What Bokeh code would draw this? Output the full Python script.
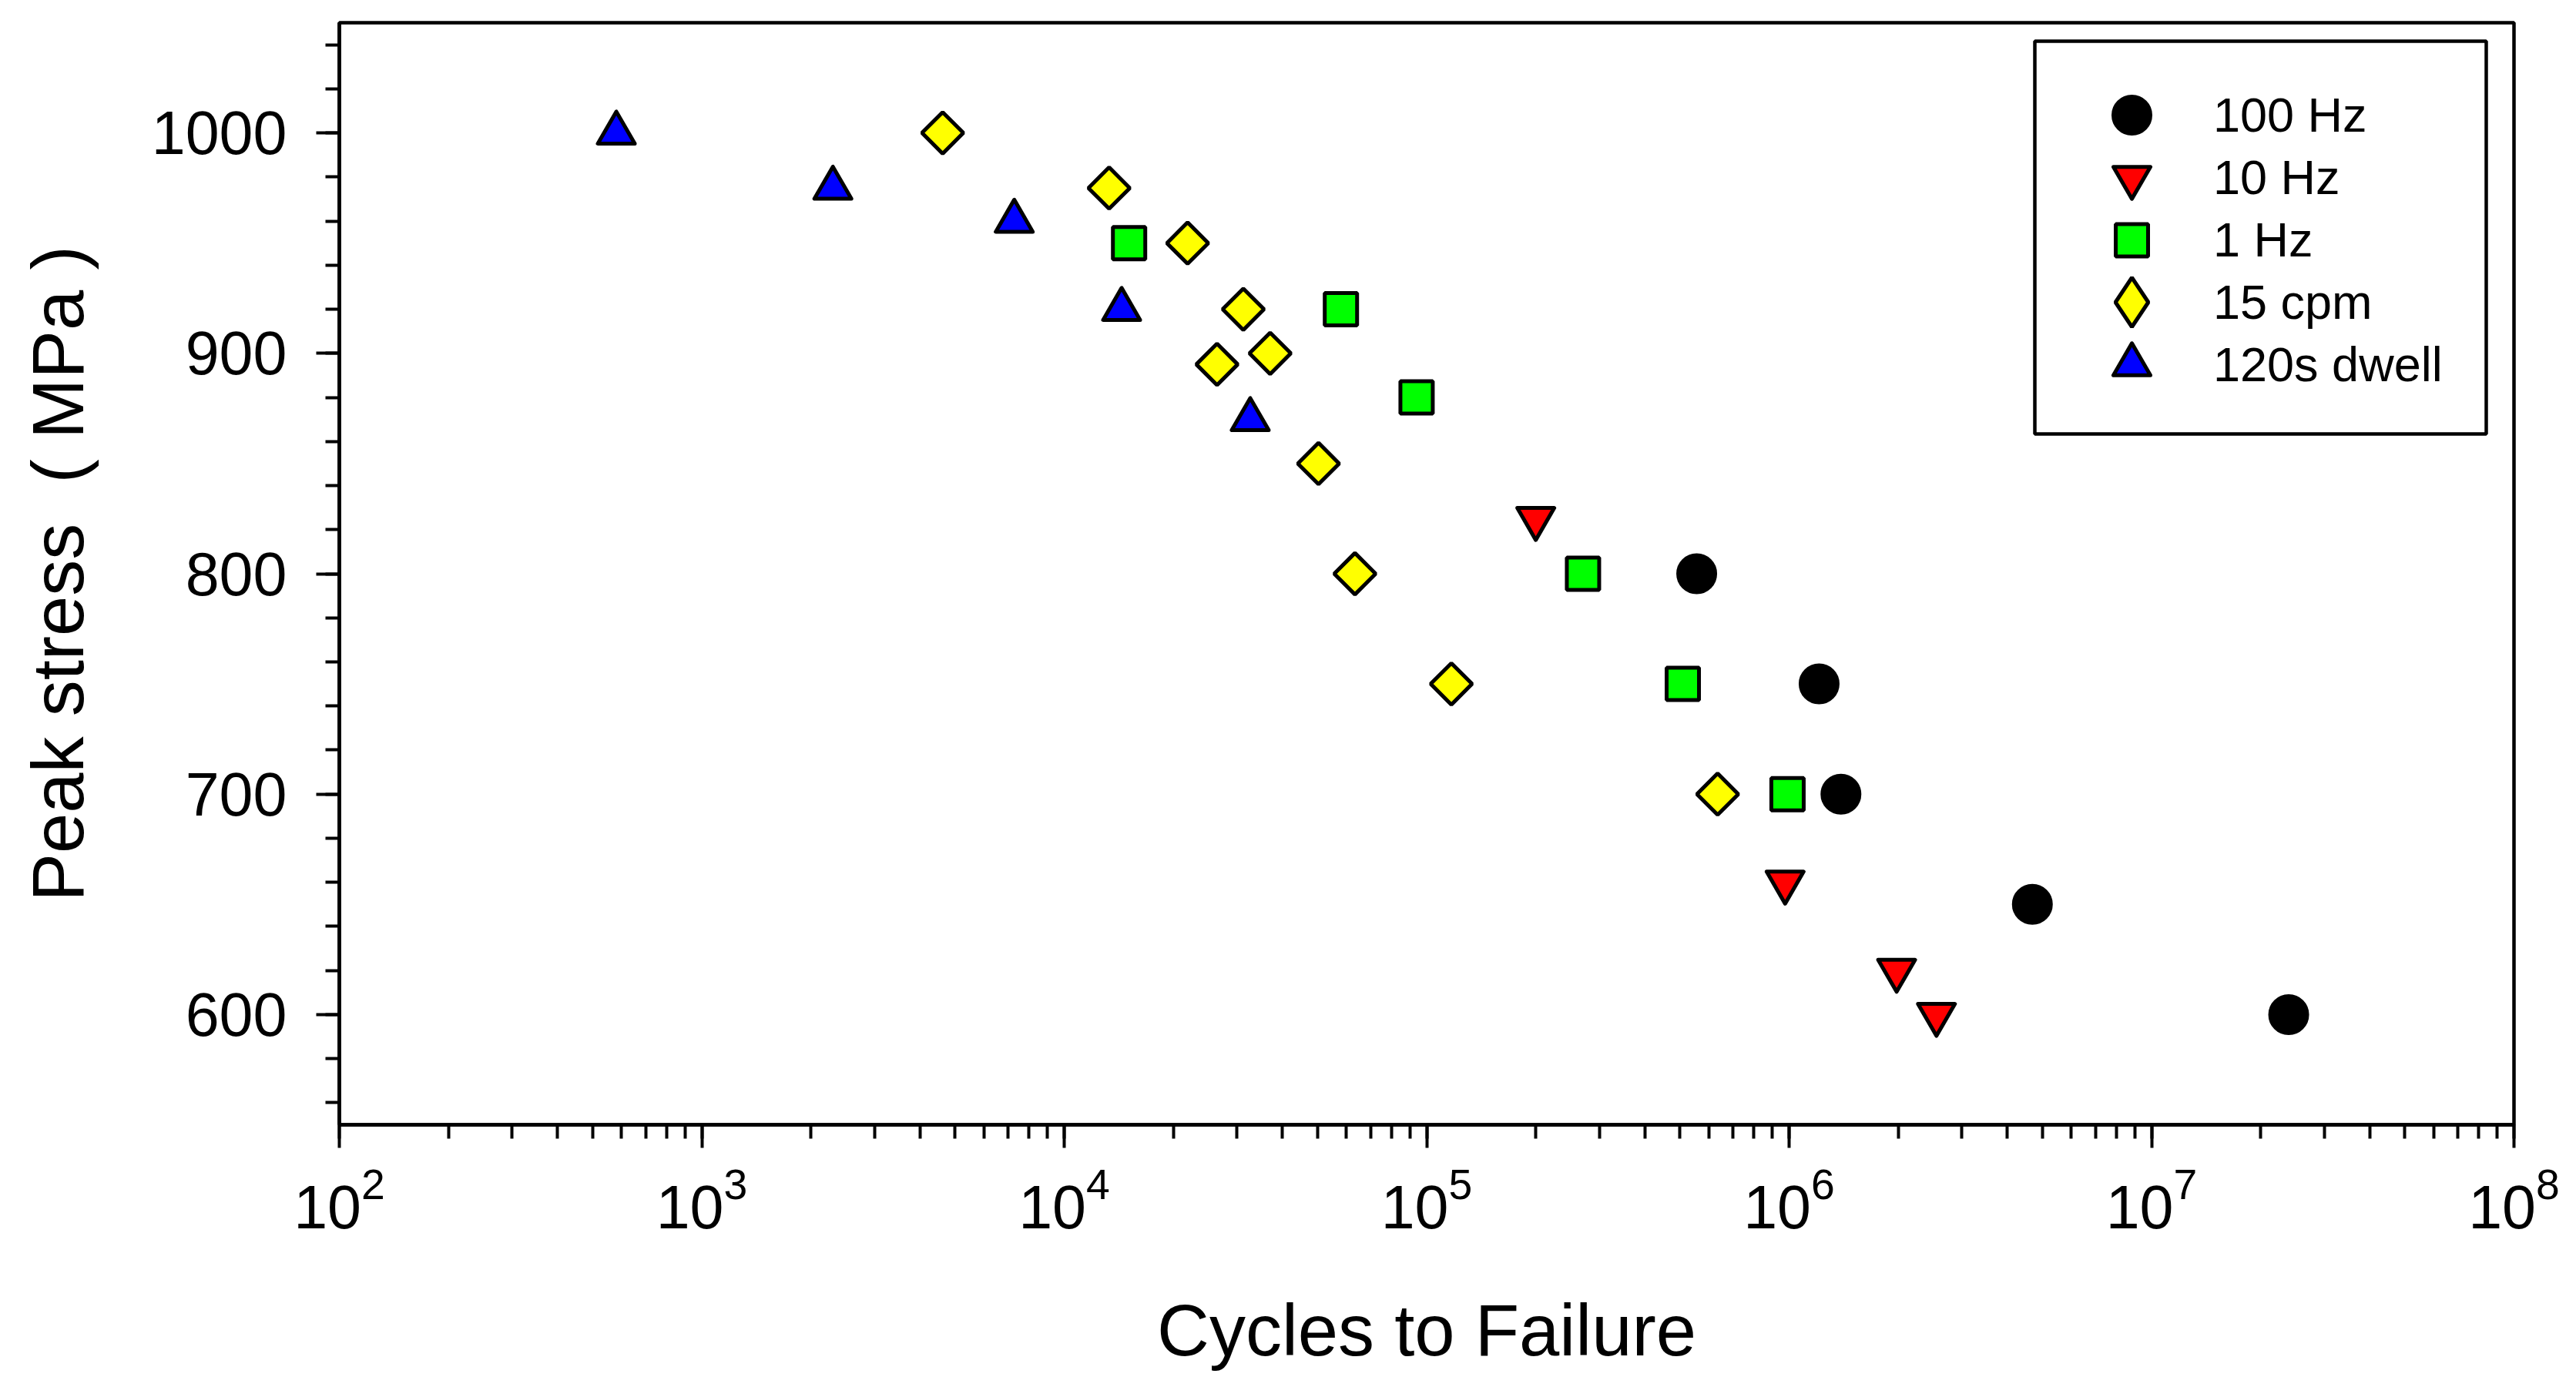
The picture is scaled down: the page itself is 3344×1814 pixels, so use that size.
import math
from bokeh.plotting import figure
from bokeh.models import (Range1d, LogTicker, LogTickFormatter, SingleIntervalTicker,
                          Legend, LegendItem, BoxAnnotation)
from bokeh.embed import file_html
from bokeh.resources import INLINE

# ---- data ----
series_names = ["100 Hz", "10 Hz", "1 Hz", "15 cpm", "120s dwell"]

hz100_cycles = [5.56e5, 1.21e6, 1.39e6, 4.69e6, 2.39e7]
hz100_stress = [800, 750, 700, 650, 600]

hz10_cycles = [2.0e5, 9.75e5, 1.98e6, 2.55e6]
hz10_stress = [825, 660, 620, 600]

hz1_cycles = [1.51e4, 5.80e4, 9.38e4, 2.70e5, 5.09e5, 9.9e5]
hz1_stress = [950, 920, 880, 800, 750, 700]

cpm15_cycles = [4.62e3, 1.33e4, 2.19e4, 3.12e4, 2.64e4, 3.70e4, 5.03e4, 6.34e4, 1.17e5, 6.35e5]
cpm15_stress = [1000, 975, 950, 920, 895, 900, 850, 800, 750, 700]

dwell_cycles = [581, 2.30e3, 7.28e3, 1.44e4, 3.26e4]
dwell_stress = [1000, 975, 960, 920, 870]

x_label = "Cycles to Failure"
y_label = "Peak stress\u00a0 ( MPa )"

FONT = "Liberation Sans"

# frame placement (canvas px)
FR_L, FR_R, FR_T, FR_B = 440, 3263, 29, 1460
W, H = 3328, 1798

p = figure(width=W, height=H, x_axis_type="log",
           x_range=Range1d(1e2, 1e8), y_range=Range1d(550, 1050),
           output_backend="svg", toolbar_location=None,
           min_border_left=FR_L, min_border_right=W - FR_R,
           min_border_top=FR_T, min_border_bottom=H - FR_B)
p.grid.visible = False
p.background_fill_color = "white"
p.border_fill_color = "white"
p.outline_line_color = "black"
p.outline_line_width = 4.5
p.outline_line_alpha = 1.0

p.xaxis.ticker = LogTicker(desired_num_ticks=6, num_minor_ticks=10)
p.xaxis.formatter = LogTickFormatter()
p.yaxis.ticker = SingleIntervalTicker(interval=100, num_minor_ticks=5)
p.xaxis.axis_label = x_label
p.yaxis.axis_label = y_label

for ax in (p.xaxis[0], p.yaxis[0]):
    ax.axis_line_width = 4.5
    ax.axis_line_color = "black"
    ax.major_tick_line_width = 4
    ax.minor_tick_line_width = 4
    ax.major_tick_line_color = "black"
    ax.minor_tick_line_color = "black"
    ax.major_tick_out = 30
    ax.major_tick_in = 0
    ax.minor_tick_out = 18
    ax.minor_tick_in = 0
    ax.major_label_text_font = FONT
    ax.major_label_text_font_size = "79px"
    ax.major_label_text_color = "black"
    ax.axis_label_text_font = FONT
    ax.axis_label_text_font_size = "94px"
    ax.axis_label_text_font_style = "normal"
    ax.axis_label_text_color = "black"

p.xaxis.major_label_standoff = 23
p.yaxis.major_label_standoff = 38
p.xaxis.axis_label_standoff = 77
p.yaxis.axis_label_standoff = 66

LW = 5
r_100 = p.scatter(hz100_cycles, hz100_stress, marker="circle", size=48,
                  fill_color="black", line_color="black", line_width=LW)
r_10 = p.scatter(hz10_cycles, hz10_stress, marker="inverted_triangle", size=48,
                 fill_color="#ff0000", line_color="black", line_width=LW, line_join="round")
r_1 = p.scatter(hz1_cycles, hz1_stress, marker="square", size=42,
                fill_color="#00ff00", line_color="black", line_width=LW)
r_15 = p.scatter(cpm15_cycles, cpm15_stress, marker="square", size=38, angle=math.pi / 4,
                 fill_color="#ffff00", line_color="black", line_width=LW)
r_dw = p.scatter(dwell_cycles, dwell_stress, marker="triangle", size=48,
                 fill_color="#0000ff", line_color="black", line_width=LW, line_join="round")
# legend swatch for the diamond series (legend markers are drawn unrotated);
# a single NaN row so the legend has something to draw while the plot shows nothing
r_15_key = p.scatter(x=[float("nan")], y=[float("nan")], marker="diamond", size=60,
                     fill_color="#ffff00", line_color="black", line_width=LW)

# legend frame
LEG_L, LEG_R, LEG_T, LEG_B = 2641, 3227, 53, 563
box = BoxAnnotation(left=LEG_L, right=LEG_R, top=LEG_T, bottom=LEG_B,
                    left_units="canvas", right_units="canvas",
                    top_units="canvas", bottom_units="canvas",
                    fill_color="white", fill_alpha=1.0,
                    line_color="black", line_width=4.5, line_alpha=1.0)
p.add_layout(box)

# one legend entry per row; marker size in a legend = 0.4 * glyph box height
row_centers = [149, 230, 311, 392, 473]
key_renderers = [r_100, r_10, r_1, r_15_key, r_dw]
glyph_heights = [120, 120, 105, 160, 120]
GLYPH_W = 186
for name, r, cy, gh in zip(series_names, key_renderers, row_centers, glyph_heights):
    lg = Legend(items=[LegendItem(label=name, renderers=[r])],
                location=(LEG_L + 33 - FR_L, FR_B - (cy + gh / 2)),
                margin=0, padding=0, spacing=0,
                glyph_width=GLYPH_W, glyph_height=gh, label_standoff=13,
                label_text_font=FONT, label_text_font_size="63px", label_text_color="black",
                border_line_color=None, background_fill_alpha=0.0)
    p.add_layout(lg)

open("out.html", "w").write(file_html(p, INLINE))
